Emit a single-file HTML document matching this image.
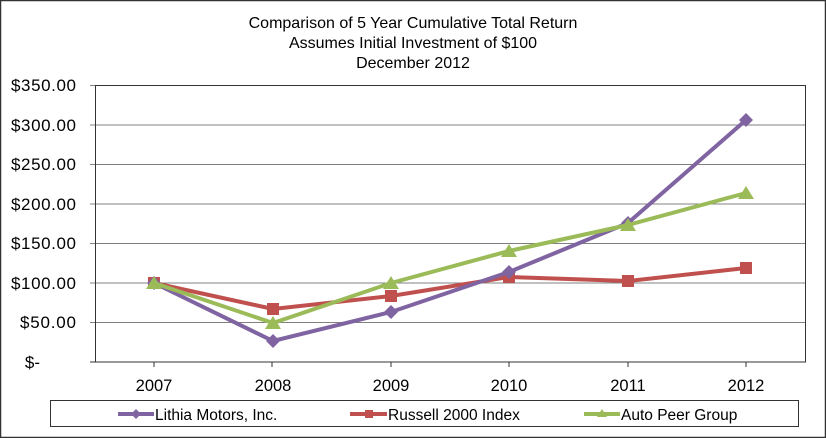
<!DOCTYPE html>
<html><head><style>body{margin:0;background:#fff}svg{display:block}text{font-family:"Liberation Sans",Arial,sans-serif}</style></head><body>
<svg width="826" height="438" viewBox="0 0 826 438">
<rect x="0.5" y="0.5" width="825" height="437" fill="#fff" stroke="#333" stroke-width="1.5"/>
<text x="413" y="28" font-size="16" text-anchor="middle">Comparison of 5 Year Cumulative Total Return</text>
<text x="413" y="48" font-size="16" text-anchor="middle">Assumes Initial Investment of $100</text>
<text x="413" y="68" font-size="16" text-anchor="middle">December 2012</text>
<g stroke="#808080" stroke-width="1">
<line x1="90" y1="85.5" x2="805" y2="85.5"/><line x1="90" y1="125" x2="805" y2="125"/><line x1="90" y1="164.5" x2="805" y2="164.5"/><line x1="90" y1="204" x2="805" y2="204"/><line x1="90" y1="243.5" x2="805" y2="243.5"/><line x1="90" y1="283" x2="805" y2="283"/><line x1="90" y1="322.5" x2="805" y2="322.5"/>
</g>
<rect x="95.5" y="85.5" width="710" height="276.5" fill="none" stroke="#333" stroke-width="1"/>
<line x1="90" y1="362" x2="805" y2="362" stroke="#333"/>
<g stroke="#333"><line x1="154" y1="362" x2="154" y2="367"/><line x1="272" y1="362" x2="272" y2="367"/><line x1="391" y1="362" x2="391" y2="367"/><line x1="509" y1="362" x2="509" y2="367"/><line x1="628" y1="362" x2="628" y2="367"/><line x1="746" y1="362" x2="746" y2="367"/></g>
<g font-size="17" text-anchor="end">
<text x="76" y="91" textLength="65">$350.00</text><text x="76" y="131" textLength="65">$300.00</text><text x="76" y="170" textLength="65">$250.00</text><text x="76" y="210" textLength="65">$200.00</text><text x="76" y="249" textLength="65">$150.00</text><text x="76" y="289" textLength="65">$100.00</text><text x="76" y="328" textLength="56">$50.00</text><text x="40" y="368">$-</text>
</g>
<g font-size="16.5" text-anchor="middle">
<text x="154" y="391">2007</text><text x="273" y="391">2008</text><text x="391" y="391">2009</text><text x="509" y="391">2010</text><text x="628" y="391">2011</text><text x="746" y="391">2012</text>
</g>
<polyline points="154,283 273,309 391,296 509,277 628,281 746,268" fill="none" stroke="#c0504d" stroke-width="4"/>
<g fill="#c0504d"><rect x="148" y="277" width="12" height="12"/><rect x="267" y="303" width="12" height="12"/><rect x="385" y="290" width="12" height="12"/><rect x="503" y="271" width="12" height="12"/><rect x="622" y="275" width="12" height="12"/><rect x="740" y="262" width="12" height="12"/></g>
<polyline points="154,283 273,341 391,312 509,272 628,223 746,120" fill="none" stroke="#8064a2" stroke-width="4"/>
<g fill="#8064a2"><path d="M154,276l7,7-7,7-7-7z"/><path d="M273,334l7,7-7,7-7-7z"/><path d="M391,305l7,7-7,7-7-7z"/><path d="M509,265l7,7-7,7-7-7z"/><path d="M628,216l7,7-7,7-7-7z"/><path d="M746,113l7,7-7,7-7-7z"/></g>
<polyline points="154,283 273,323 391,283 509,251 628,225 746,193" fill="none" stroke="#9bbb59" stroke-width="4"/>
<g fill="#9bbb59"><path d="M154,276l8,13h-16z"/><path d="M273,316l8,13h-16z"/><path d="M391,276l8,13h-16z"/><path d="M509,244l8,13h-16z"/><path d="M628,218l8,13h-16z"/><path d="M746,186l8,13h-16z"/></g>
<rect x="50.5" y="400.5" width="748" height="26" fill="#fff" stroke="#333"/>
<line x1="118" y1="414" x2="154" y2="414" stroke="#8064a2" stroke-width="4"/><path d="M136,409l5,5-5,5-5-5z" fill="#8064a2"/>
<text x="155" y="420" font-size="15.5">Lithia Motors, Inc.</text>
<line x1="350" y1="414" x2="387" y2="414" stroke="#c0504d" stroke-width="4"/><rect x="365" y="410" width="8" height="8" fill="#c0504d"/>
<text x="388" y="420" font-size="15.5">Russell 2000 Index</text>
<line x1="584" y1="414" x2="620" y2="414" stroke="#9bbb59" stroke-width="4"/><path d="M602,409l5,8h-10z" fill="#9bbb59"/>
<text x="621" y="420" font-size="15.5">Auto Peer Group</text>
</svg>
</body></html>
